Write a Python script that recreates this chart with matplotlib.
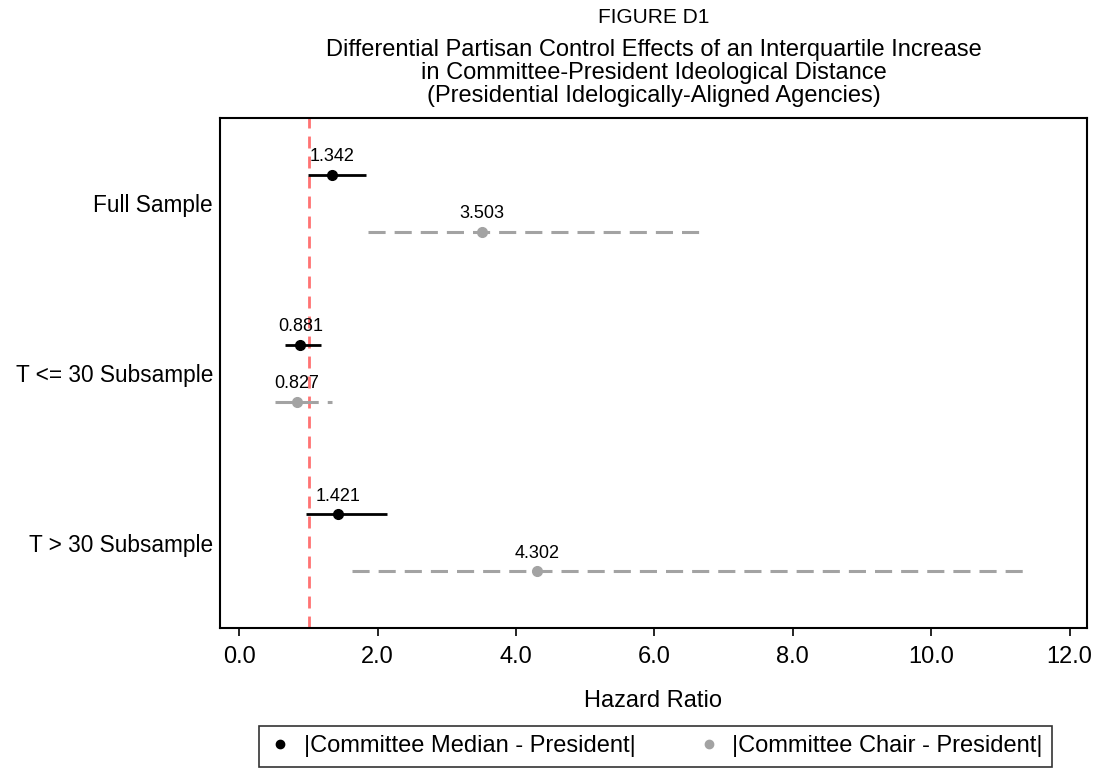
import matplotlib
matplotlib.use('Agg')
import matplotlib.pyplot as plt
from matplotlib.lines import Line2D

plt.rcParams['font.family'] = ['Liberation Sans', 'DejaVu Sans']

groups = ['Full Sample', 'T <= 30 Subsample', 'T > 30 Subsample']

median_hr = [1.342, 0.881, 1.421]
median_lo = [0.99, 0.66, 0.96]
median_hi = [1.83, 1.18, 2.14]

chair_hr = [3.503, 0.827, 4.302]
chair_lo = [1.86, 0.52, 1.63]
chair_hi = [6.70, 1.34, 11.42]

black = '#000000'
grey = '#a3a3a3'

fig = plt.figure(figsize=(11, 7.78), dpi=100)
ax = fig.add_axes([0.2, 0.193, 0.788, 0.655])

centers = [3, 2, 1]
off = 0.168

for i, c in enumerate(centers):
    y = c + off
    ax.plot([median_lo[i], median_hi[i]], [y, y], color=black, lw=2, solid_capstyle='butt', zorder=3)
    ax.plot(median_hr[i], y, 'o', color=black, ms=7, zorder=4)
    ax.annotate(f'{median_hr[i]:.3f}', (median_hr[i], y), xytext=(0, 7),
                textcoords='offset points', ha='center', va='bottom', fontsize=13)

    y = c - off
    ax.plot([chair_lo[i], chair_hi[i]], [y, y], color=grey, lw=2.2, dashes=(5.6, 2.95),
            solid_capstyle='butt', dash_capstyle='butt', zorder=3)
    ax.plot(chair_hr[i], y, 'o', color=grey, ms=7, zorder=4)
    ax.annotate(f'{chair_hr[i]:.3f}', (chair_hr[i], y), xytext=(0, 7),
                textcoords='offset points', ha='center', va='bottom', fontsize=13)

ax.axvline(1, color='#ff5a5a', lw=2, dashes=(4.3, 2.9), alpha=0.85, zorder=2)

ax.set_xlim(-0.28, 12.25)
ax.set_ylim(0.5, 3.5)
ax.set_xticks(range(0, 13, 2))
ax.set_xticklabels([f'{v:.1f}' for v in range(0, 13, 2)], fontsize=17)
ax.set_yticks(centers)
ax.set_yticklabels(groups, fontsize=16.3)
ax.tick_params(axis='y', length=0, pad=5)
ax.tick_params(axis='x', length=6, width=1.2, pad=7)
for s in ax.spines.values():
    s.set_linewidth(1.5)
ax.set_xlabel('Hazard Ratio', fontsize=17, labelpad=16)

fig.text(0.594, 0.977, 'FIGURE D1', ha='center', va='center', fontsize=15)
fig.text(0.594, 0.906, 'Differential Partisan Control Effects of an Interquartile Increase\n'
         'in Committee-President Ideological Distance\n'
         '(Presidential Idelogically-Aligned Agencies)',
         ha='center', va='center', fontsize=17, linespacing=1.05)

handles = [
    Line2D([], [], marker='o', ls='none', color=black, ms=6, label='|Committee Median - President|'),
    Line2D([], [], marker='o', ls='none', color=grey, ms=6, label='|Committee Chair - President|'),
]
leg = fig.legend(handles=handles, loc='center', bbox_to_anchor=(0.596, 0.041), ncol=2,
                 fontsize=17, frameon=True, fancybox=False, edgecolor=black,
                 handlelength=1.0, handletextpad=0.5, columnspacing=2.6, borderpad=0.4)
leg.get_frame().set_linewidth(1.2)

fig.savefig('out.png', dpi=100, facecolor='white')
